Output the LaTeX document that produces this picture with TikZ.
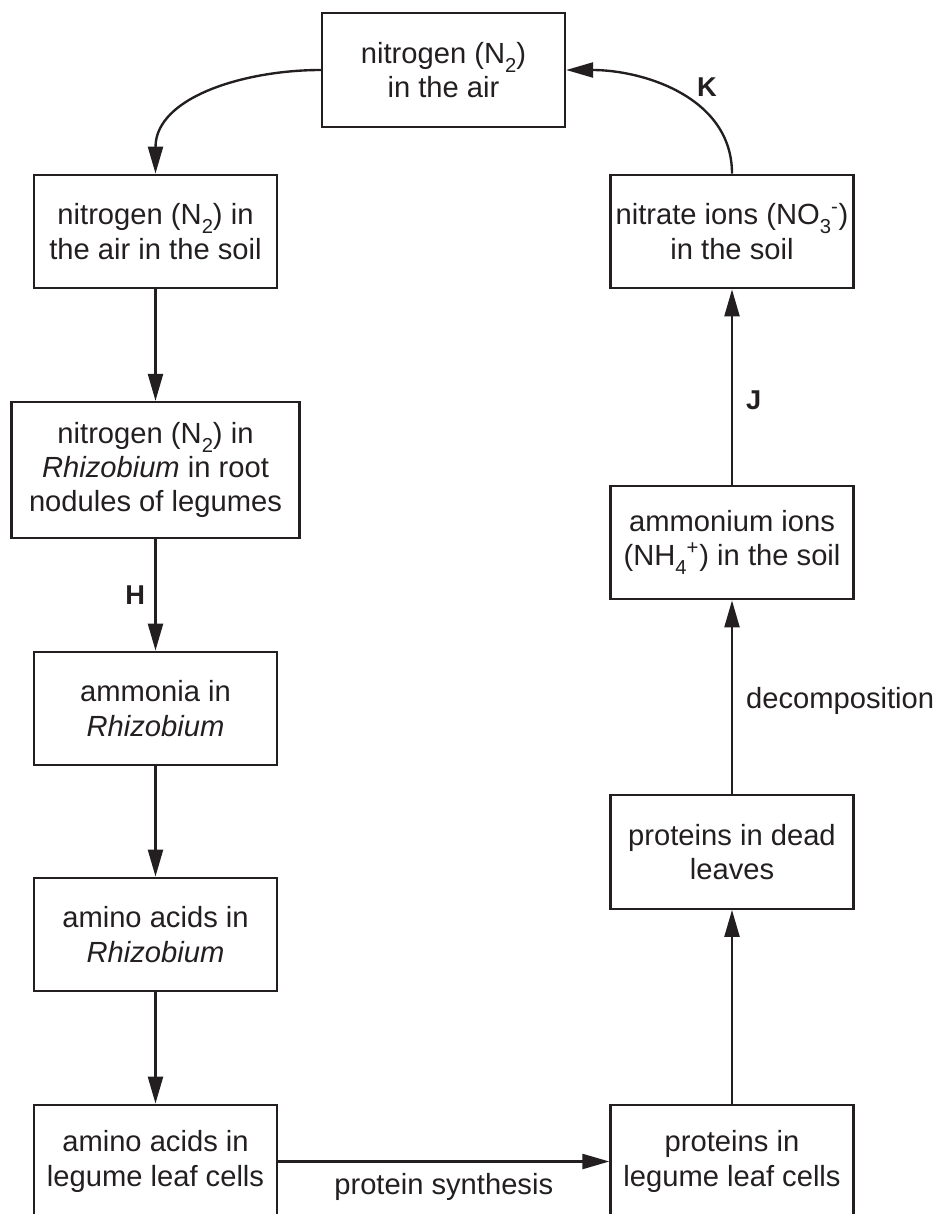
\documentclass[tikz,border=0pt]{standalone}
\usepackage{fontspec}
\setmainfont{Liberation Sans}
\usepackage{tikz}
\usetikzlibrary{arrows.meta}
\definecolor{ink}{HTML}{231F20}
\newcommand{\bodyfont}{\fontsize{16.6}{19.5}\selectfont}
\newcommand{\chemsub}[1]{\raisebox{-0.3em}{\fontsize{11.5}{11.5}\selectfont #1}}
\tikzset{
    box/.style={draw=ink, line width=1.35pt, align=center, inner sep=2pt,
        minimum width=4.86cm, minimum height=2.27cm},
    widebox/.style={box, minimum width=5.76cm, minimum height=2.72cm},
    flow/.style={draw=ink, line width=1.35pt, -{Triangle[length=0.54cm, width=0.3cm]}},
    steplabel/.style={font=\bfseries\fontsize{15.5}{18}\selectfont}
}
\begin{document}
\begin{tikzpicture}[x=0.02cm, y=0.02cm, font=\bodyfont, text=ink]
    \useasboundingbox (0,0) rectangle (940,-1214);

    % top of the cycle
    \node[box] (air) at (443.5,-70) {nitrogen (N\chemsub{2})\\in the air};

    % left column
    \node[box] (soilair) at (155.5,-231.5) {nitrogen (N\chemsub{2}) in\\the air in the soil};
    \node[widebox] (nodule) at (155.5,-470) {nitrogen (N\chemsub{2}) in\\\textit{Rhizobium} in root\\nodules of legumes};
    \node[box] (ammonia) at (155.5,-708.5) {ammonia in\\\textit{Rhizobium}};
    \node[box] (aminorhiz) at (155.5,-934.5) {amino acids in\\\textit{Rhizobium}};
    \node[box] (aminoleaf) at (155.5,-1161.5) {amino acids in\\legume leaf cells};

    % right column
    \node[box] (nitrate) at (732,-231.5) {nitrate ions (NO\chemsub{3}\textsuperscript{-})\\in the soil};
    \node[box] (ammonium) at (732,-542.5) {ammonium ions\\(NH\chemsub{4}\textsuperscript{+}) in the soil};
    \node[box] (deadleaf) at (732,-852) {proteins in dead\\leaves};
    \node[box] (protleaf) at (732,-1161.5) {proteins in\\legume leaf cells};

    % down the left side
    \draw[flow] (air.west) to[out=180, in=90] (soilair.north);
    \foreach \a/\b in {soilair/nodule, ammonia/aminorhiz, aminorhiz/aminoleaf}
        \draw[flow] (\a) -- (\b);
    \draw[flow] (nodule) -- node[steplabel, left, xshift=-2pt] {H} (ammonia);

    % across the bottom
    \draw[flow] (aminoleaf) -- node[below, yshift=-3pt] {protein synthesis} (protleaf);

    % up the right side
    \draw[flow] (protleaf) -- (deadleaf);
    \draw[flow] (deadleaf) -- node[right, pos=0.48, xshift=4pt] {decomposition} (ammonium);
    \draw[flow] (ammonium) -- node[steplabel, right, pos=0.43, xshift=4pt] {J} (nitrate);
    \draw[flow] (nitrate.north) to[out=90, in=0] (air.east);
    \node[steplabel] (klabel) at (707,-87) {K};
\end{tikzpicture}
\end{document}
